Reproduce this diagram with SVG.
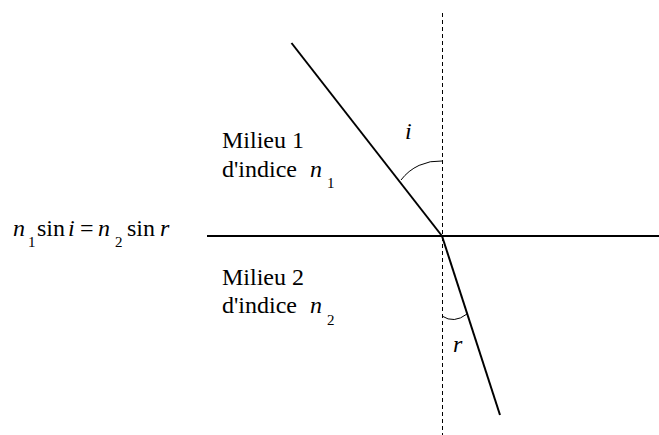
<svg xmlns="http://www.w3.org/2000/svg" width="659" height="435" viewBox="0 0 659 435">
<style>
text{font-family:'Liberation Serif','Times New Roman',serif;font-size:24px;fill:#000}
.it{font-style:italic}
.sub{font-size:15px}
.ray{stroke:#000;stroke-width:2;fill:none}
.normal{stroke:#000;stroke-width:1;stroke-dasharray:4 3;fill:none}
.arc{stroke:#000;stroke-width:1;fill:none}
</style>
<rect width="659" height="435" fill="#fff"/>
<g id="connectors">
<line class="normal" x1="442.5" y1="13" x2="442.5" y2="435"/>
<line class="ray" x1="207" y1="236" x2="659" y2="236"/>
<line class="ray" x1="291.5" y1="43" x2="442" y2="236"/>
<line class="ray" x1="442" y1="236" x2="500" y2="415"/>
<path class="arc" d="M442,161 A48 48 0 0 0 401,180"/>
<path class="arc" d="M442,316 Q454,324 467,314"/>
</g>
<g id="formula">
<text y="236"><tspan class="it" x="13">n</tspan><tspan class="sub" x="28" y="247">1</tspan><tspan x="37" y="236">sin</tspan><tspan class="it" x="68">i</tspan><tspan x="80">=</tspan><tspan class="it" x="98">n</tspan><tspan class="sub" x="115" y="247">2</tspan><tspan x="127" y="236">sin</tspan><tspan class="it" x="160">r</tspan></text>
</g>
<g id="milieu1">
<text x="222" y="148">Milieu 1</text>
<text x="222" y="177">d'indice <tspan class="it" x="310">n</tspan><tspan class="sub" x="327" y="188">1</tspan></text>
</g>
<g id="milieu2">
<text x="222" y="285">Milieu 2</text>
<text x="222" y="313">d'indice <tspan class="it" x="310">n</tspan><tspan class="sub" x="327" y="325">2</tspan></text>
</g>
<g id="label-i"><text class="it" x="405" y="139">i</text></g>
<g id="label-r"><text class="it" x="453" y="352">r</text></g>
</svg>
